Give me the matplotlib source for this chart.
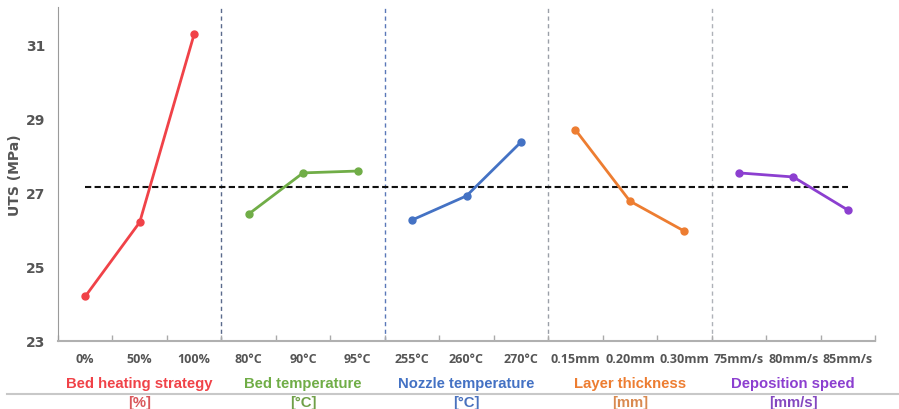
import matplotlib
matplotlib.use("Agg")
import matplotlib.pyplot as plt
from matplotlib.lines import Line2D

groups = ["Bed heating strategy", "Bed temperature", "Nozzle temperature", "Layer thickness", "Deposition speed"]
units = ["[%]", "[°C]", "[°C]", "[mm]", "[mm/s]"]
levels = [["0%", "50%", "100%"],
          ["80°C", "90°C", "95°C"],
          ["255°C", "260°C", "270°C"],
          ["0.15mm", "0.20mm", "0.30mm"],
          ["75mm/s", "80mm/s", "85mm/s"]]
bed_heating = [24.2, 26.2, 31.27]
bed_temp = [26.42, 27.53, 27.58]
nozzle_temp = [26.26, 26.91, 28.36]
layer_thk = [28.69, 26.77, 25.96]
dep_speed = [27.53, 27.42, 26.53]
mean_uts = 27.15
series = [bed_heating, bed_temp, nozzle_temp, layer_thk, dep_speed]
colors = ["#F04248", "#70AD47", "#4472C4", "#ED7D31", "#8C3FD0"]
unit_colors = ["#D9565A", "#70A048", "#4A72BE", "#D98A50", "#8448C0"]
sep_colors = ["#5A6A8C", "#5A78B8", "#9A9FA8", "#AEB2B8"]

fig = plt.figure(figsize=(8.99, 4.10), dpi=100)
ax = fig.add_axes([58/899, 1-342/410, 817/899, 334/410])

n = sum(len(l) for l in levels)
ax.set_xlim(-0.5, n - 0.5)
ax.set_ylim(23, 32)

pos = 0
for gi, (vals, col) in enumerate(zip(series, colors)):
    xs = list(range(pos, pos + len(vals)))
    ax.plot(xs, vals, color=col, lw=2.0, marker="o", ms=5, zorder=3)
    pos += len(vals)

ax.plot([0, n - 1], [mean_uts, mean_uts], ls=(0, (3, 1.6)), color="#111111", lw=1.5, zorder=2)

pos = 0
for gi in range(len(levels) - 1):
    pos += len(levels[gi])
    ax.axvline(pos - 0.5, color=sep_colors[gi], ls=(0, (3, 2.5)), lw=1.0, zorder=1)

ax.set_yticks([23, 25, 27, 29, 31])
ax.tick_params(axis="y", length=0, pad=9, labelsize=10, labelcolor="#555555")
for t in ax.get_yticklabels():
    t.set_fontweight("bold")
ax.set_xticks([i - 0.5 for i in range(n + 1)], minor=False)
ax.set_xticklabels([])
ax.tick_params(axis="x", direction="in", length=4, color="#AAAAAA", width=1)

for s in ["top", "right"]:
    ax.spines[s].set_visible(False)
ax.spines["left"].set_color("#9A9A9A")
ax.spines["bottom"].set_color("#B0B0B0")
ax.spines["bottom"].set_linewidth(1.5)

ax.set_ylabel("UTS (MPa)", fontsize=10, color="#555555", fontweight="bold")
ax.yaxis.set_label_coords(22/899, 1-175/410, transform=fig.transFigure)

labels = [l for g in levels for l in g]
for i, lab in enumerate(labels):
    ax.text(i, 22.52, lab, ha="center", va="center", fontsize=9, color="#555555",
            fontweight="bold", family="Open Sans")

pos = 0
for gi, g in enumerate(groups):
    c = pos + (len(levels[gi]) - 1) / 2
    ax.text(c, 21.88, g, ha="center", va="center", fontsize=10.7, color=colors[gi],
            fontweight="bold", family="Liberation Sans")
    ax.text(c, 21.35, units[gi], ha="center", va="center", fontsize=10.7, color=unit_colors[gi],
            fontweight="bold", family="Liberation Sans")
    pos += len(levels[gi])

fig.add_artist(Line2D([7/899, 1.0], [1-395/410, 1-395/410], color="#C8C8C8", lw=1.5,
                      transform=fig.transFigure))

fig.savefig("out.png", dpi=100)
